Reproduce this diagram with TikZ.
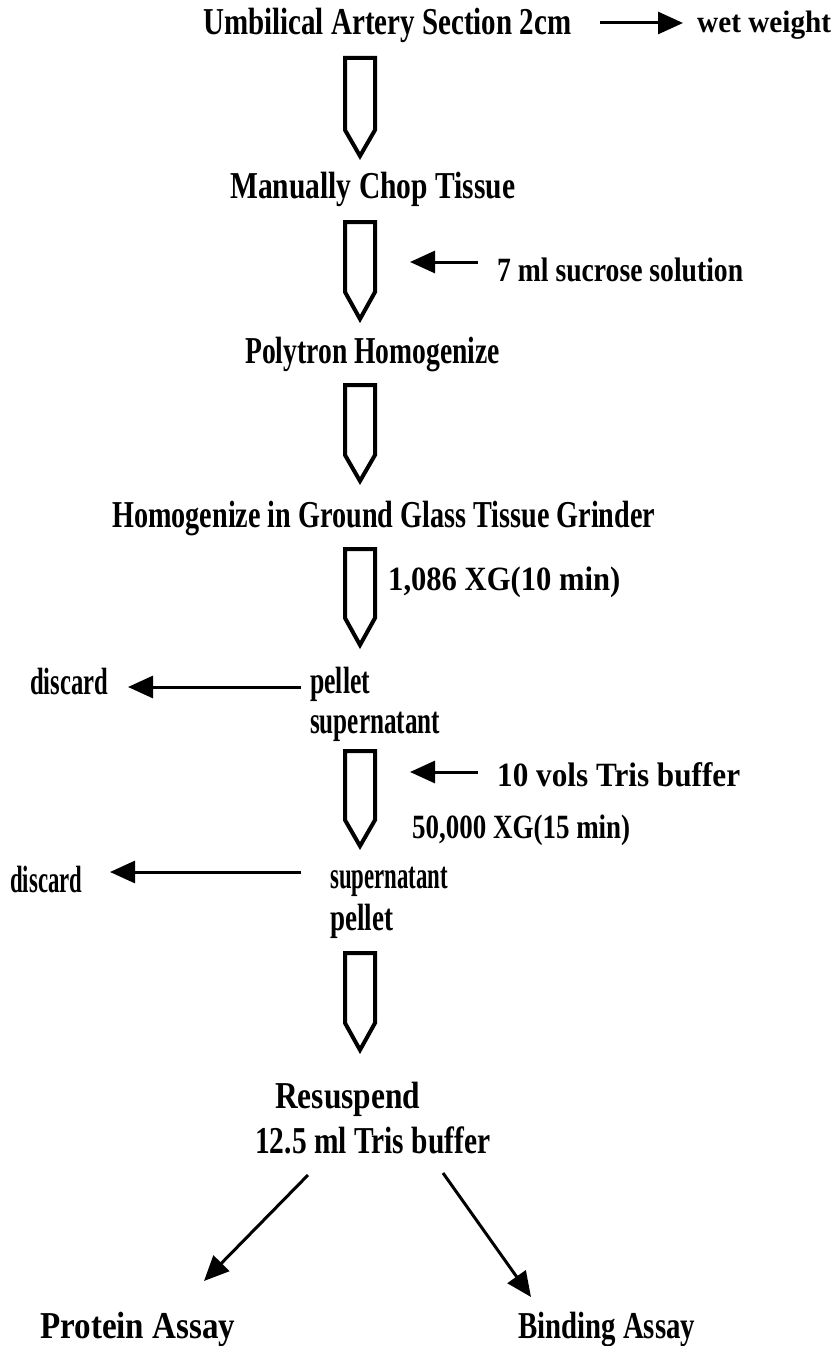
\documentclass[tikz,border=0pt]{standalone}
\usepackage{fontspec}
\setmainfont{Liberation Serif}
\usetikzlibrary{arrows.meta}
\newcommand{\fitw}[2]{\resizebox{#1pt}{\height}{#2}}
\newcommand{\blockarr}[3]{\draw[blk] (345,#1) -- (375,#1) -- (375,#2) -- (360,#3) -- (345,#2) -- cycle;}
\begin{document}
\begin{tikzpicture}[x=1pt,y=-1pt,
  lbl/.style={inner sep=0pt, anchor=base west, font=\fontsize{38}{42}\selectfont\bfseries},
  side/.style={inner sep=0pt, anchor=base west, font=\fontsize{34}{38}\selectfont\bfseries},
  blk/.style={line width=4pt, line join=miter},
  arr/.style={line width=3pt, -{Triangle[length=25pt,width=22pt]}}]
\useasboundingbox (0,0) rectangle (833,1346);
% texts
\node[lbl] (title) at (203,35) {\fitw{368}{Umbilical Artery Section 2cm}};
\node[side, font=\fontsize{31}{34}\selectfont\bfseries] (wet) at (697,33) {\fitw{134}{wet weight}};
\node[lbl] (chop) at (230,198) {\fitw{285}{Manually Chop Tissue}};
\node[side] (sucrose) at (497,281) {\fitw{246}{7 ml sucrose solution}};
\node[lbl] (poly) at (245,363) {\fitw{255}{Polytron Homogenize}};
\node[lbl] (grind) at (112,527) {\fitw{543}{Homogenize in Ground Glass Tissue Grinder}};
\node[side] (spin1) at (388,590) {\fitw{232}{1,086 XG(10 min)}};
\node[lbl] (pellet1) at (310,693) {\fitw{60}{pellet}};
\node[lbl] (super1) at (310,733) {\fitw{130}{supernatant}};
\node[lbl] (disc1) at (30,694) {\fitw{78}{discard}};
\node[side] (tris) at (497,786) {\fitw{243}{10 vols Tris buffer}};
\node[side] (spin2) at (412,838) {\fitw{218}{50,000 XG(15 min)}};
\node[lbl] (super2) at (330,888) {\fitw{118}{supernatant}};
\node[lbl] (pellet2) at (330,930) {\fitw{63}{pellet}};
\node[lbl] (disc2) at (10,892) {\fitw{72}{discard}};
\node[lbl] (resus) at (275,1108) {\fitw{145}{Resuspend}};
\node[lbl] (resbuf) at (255,1153) {\fitw{235}{12.5 ml Tris buffer}};
\node[lbl] (protein) at (40,1338) {\fitw{195}{Protein Assay}};
\node[lbl] (binding) at (518,1338) {\fitw{177}{Binding Assay}};
% block arrows
\blockarr{58}{130}{156}
\blockarr{222}{292}{319}
\blockarr{385}{455}{481}
\blockarr{549}{618}{645}
\blockarr{751}{820}{846}
\blockarr{953}{1023}{1050}
% thin arrows
\coordinate (w1) at (600,23); \coordinate (w2) at (683,23);
\draw[arr] (w1) -- (w2);
\coordinate (s1) at (478,262); \coordinate (s2) at (410,262);
\draw[arr] (s1) -- (s2);
\coordinate (d1a) at (301,687); \coordinate (d1b) at (128,687);
\draw[arr] (d1a) -- (d1b);
\coordinate (t1) at (478,772); \coordinate (t2) at (410,772);
\draw[arr] (t1) -- (t2);
\coordinate (d2a) at (301,872); \coordinate (d2b) at (110,872);
\draw[arr] (d2a) -- (d2b);
\coordinate (p1) at (308,1175); \coordinate (p2) at (204,1281);
\draw[arr] (p1) -- (p2);
\coordinate (b1) at (443,1173); \coordinate (b2) at (531,1297);
\draw[arr] (b1) -- (b2);
\end{tikzpicture}
\end{document}
